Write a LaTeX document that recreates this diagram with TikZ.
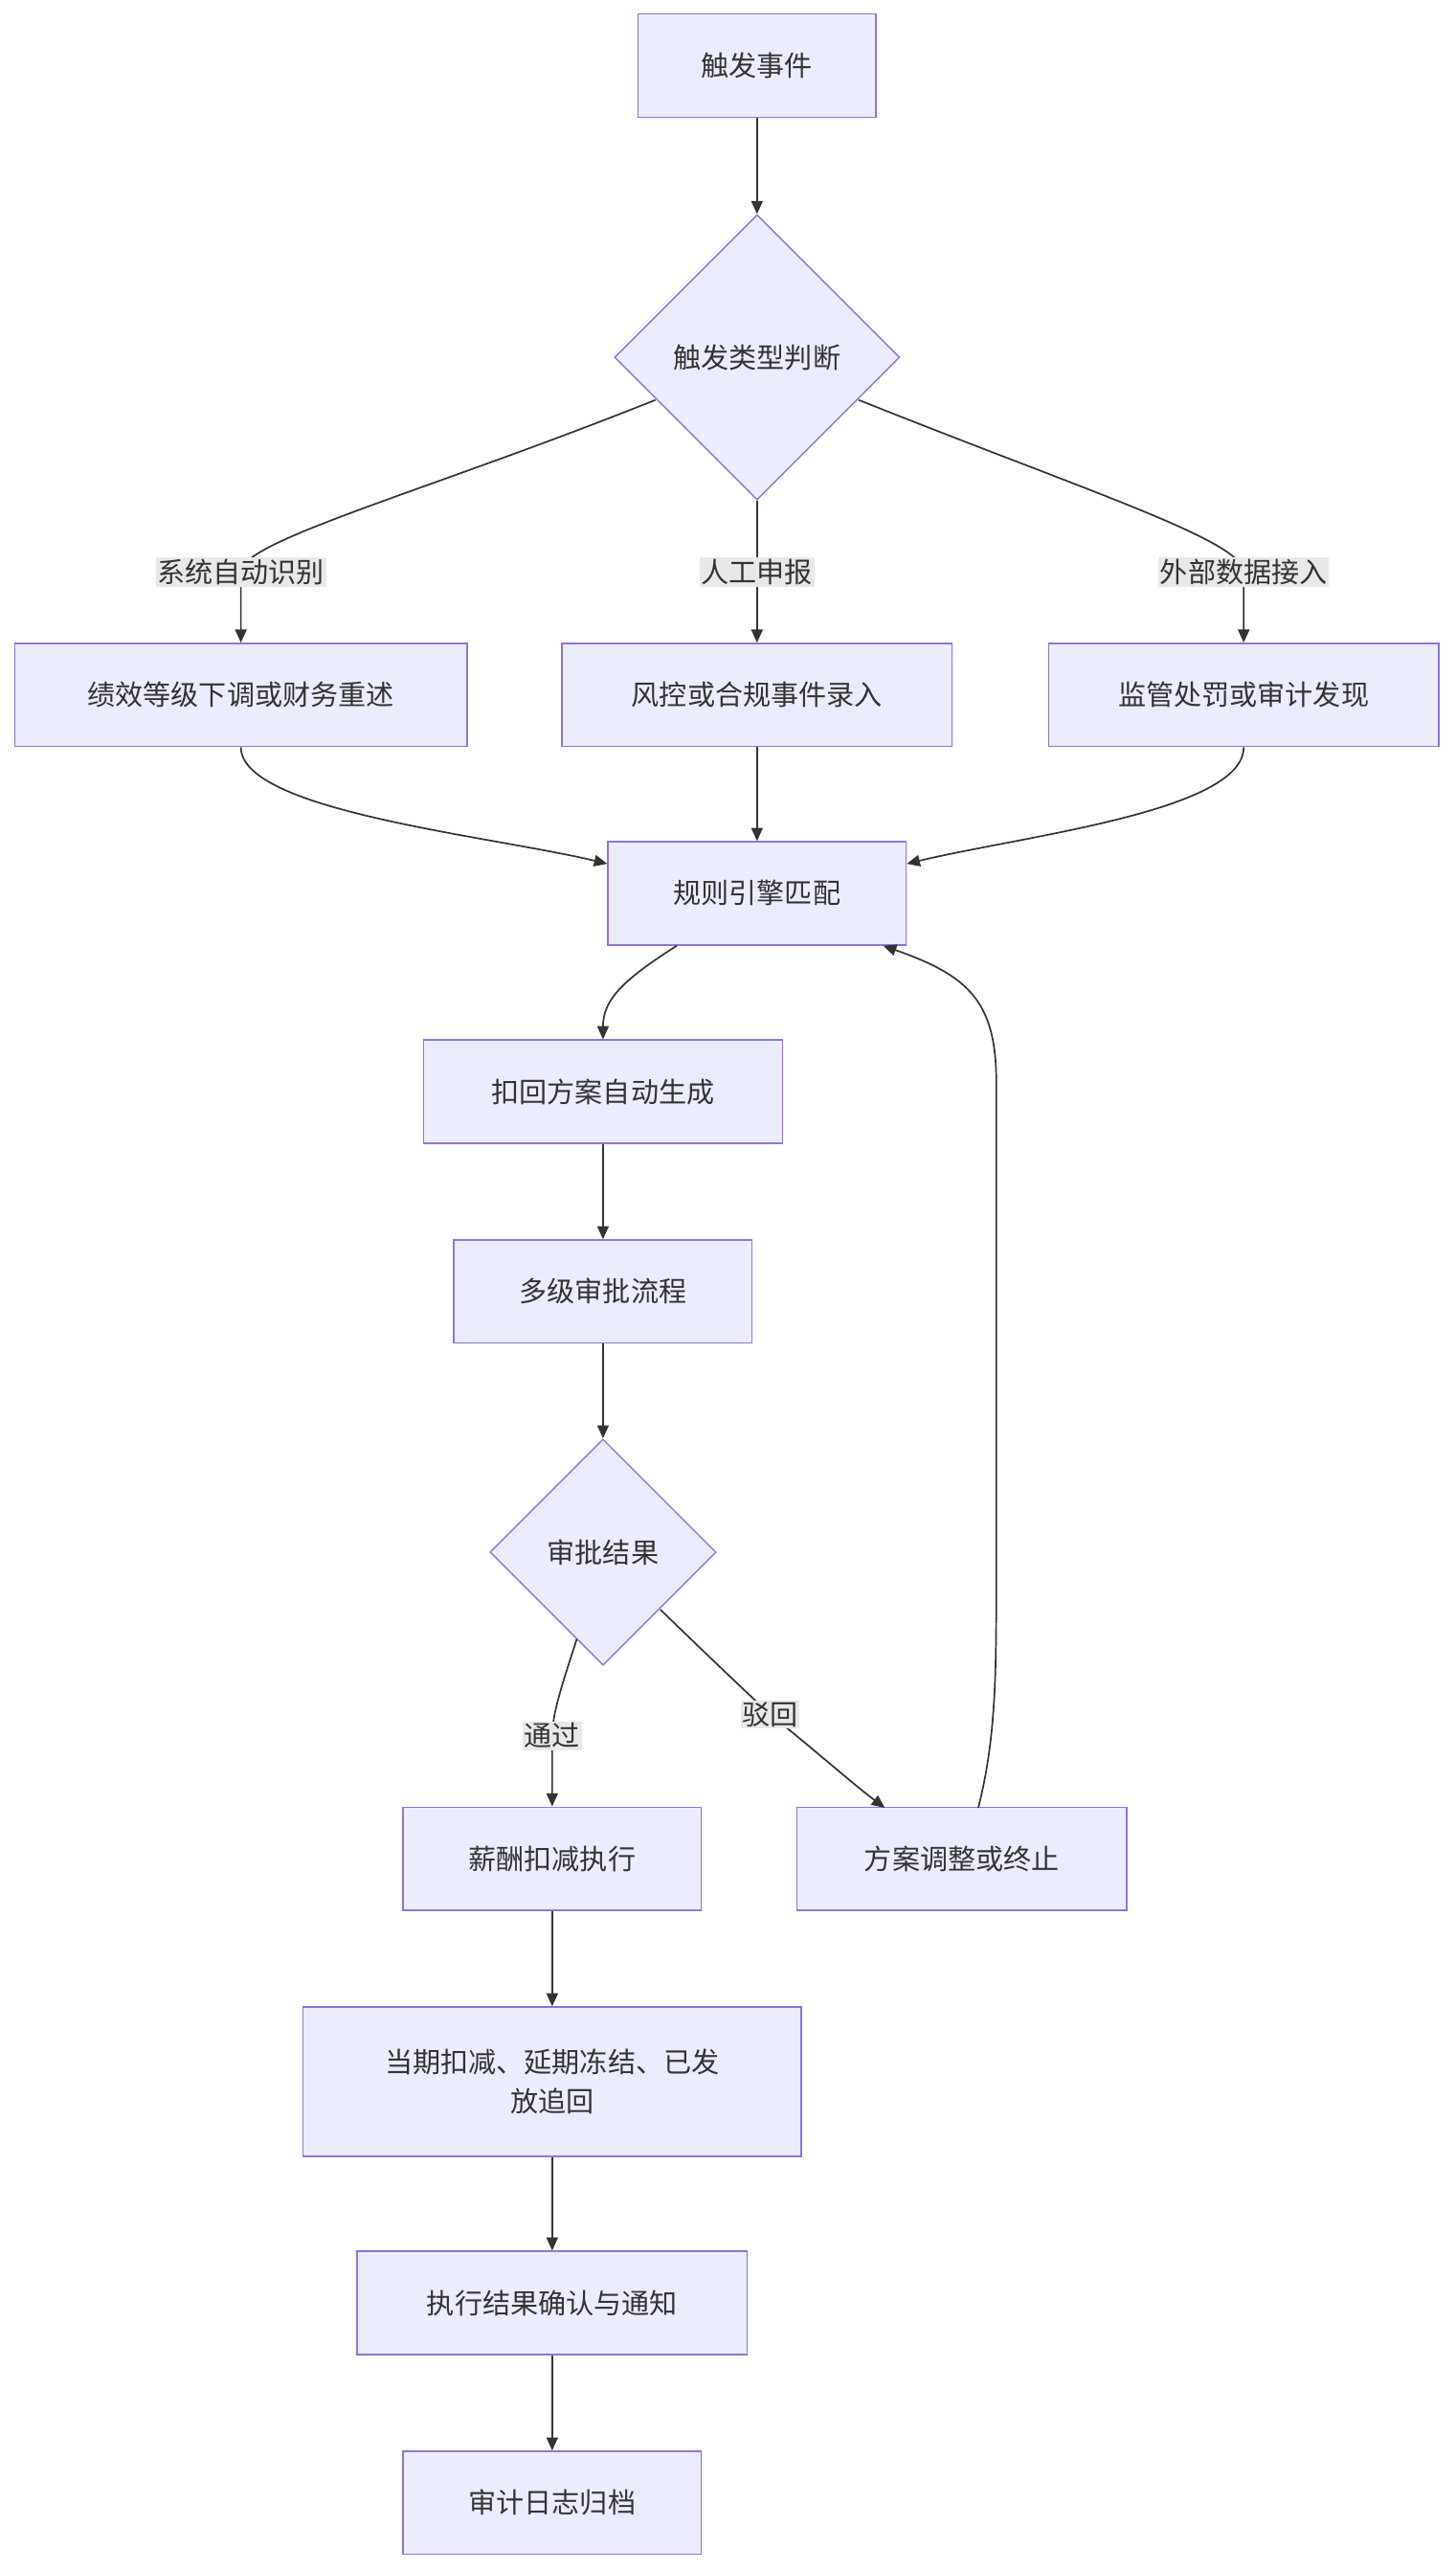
\documentclass[tikz,border=0pt]{standalone}
\usepackage{fontspec}
\setmainfont{Noto Sans CJK SC}
\usetikzlibrary{shapes.geometric,arrows.meta}
\definecolor{nfill}{HTML}{ECECFF}
\definecolor{nline}{HTML}{9370DB}
\definecolor{ink}{HTML}{333333}
\definecolor{lbg}{HTML}{E8E8E8}
\begin{document}
\begin{tikzpicture}[x=1pt,y=1pt,
  box/.style={draw=nline,fill=nfill,line width=0.8pt,minimum height=63pt,text=ink,font=\fontsize{17}{24}\selectfont,inner sep=0pt},
  dia/.style={draw=nline,fill=nfill,line width=0.8pt,diamond,aspect=1,text=ink,font=\fontsize{17}{24}\selectfont,inner sep=0pt},
  lab/.style={fill=lbg,text=ink,font=\fontsize{17}{20}\selectfont,inner sep=1pt},
  conn/.style={draw=ink,line width=1pt,-{Triangle[length=8pt,width=7pt]}}]
\useasboundingbox (0,0) rectangle (888,-1568);
\node[box,minimum width=145pt] (e1) at (462,-40) {触发事件};
\node[dia,minimum width=174pt,minimum height=174pt] (d1) at (462,-218) {触发类型判断};
\node[box,minimum width=276pt] (b1) at (147,-424) {绩效等级下调或财务重述};
\node[box,minimum width=238pt] (b2) at (462,-424) {风控或合规事件录入};
\node[box,minimum width=238pt] (b3) at (759,-424) {监管处罚或审计发现};
\node[box,minimum width=182pt] (eng) at (462,-545) {规则引擎匹配};
\node[box,minimum width=219pt] (gen) at (368,-666) {扣回方案自动生成};
\node[box,minimum width=182pt] (app) at (368,-788) {多级审批流程};
\node[dia,minimum width=138pt,minimum height=138pt] (d2) at (368,-947) {审批结果};
\node[box,minimum width=182pt] (exe) at (337,-1134) {薪酬扣减执行};
\node[box,minimum width=201pt] (adj) at (587,-1134) {方案调整或终止};
\node[box,minimum width=304pt,minimum height=91pt,align=center] (cut) at (337,-1270) {当期扣减、延期冻结、已发\\放追回};
\node[box,minimum width=238pt] (conf) at (337,-1405) {执行结果确认与通知};
\node[box,minimum width=182pt] (log) at (337,-1527) {审计日志归档};
\coordinate (l1) at (147,-349);
\coordinate (l3) at (759,-349);
\coordinate (lp) at (337,-1059);
\coordinate (lr) at (470,-1046);
\draw[conn] (e1) -- (d1);
\draw[conn] (400,-244) .. controls (260,-300) and (147,-330) .. (l1) .. controls (147,-360) and (147,-375) .. (b1.north);
\draw[conn] (d1.south) -- (b2.north);
\draw[conn] (524,-244) .. controls (664,-300) and (759,-330) .. (l3) .. controls (759,-360) and (759,-375) .. (b3.north);
\node[lab] at (l1) {系统自动识别};
\node[lab] at (462,-349) {人工申报};
\node[lab] at (l3) {外部数据接入};
\draw[conn] (b1.south) .. controls (147,-495) and (300,-510) .. (eng.west|-0,-527);
\draw[conn] (b2.south) -- (eng.north);
\draw[conn] (b3.south) .. controls (759,-495) and (624,-510) .. (eng.east|-0,-527);
\draw[conn] (413,-577) .. controls (380,-598) and (368,-610) .. (gen.north);
\draw[conn] (gen) -- (app);
\draw[conn] (app) -- (d2);
\draw[conn] (352,-1000) .. controls (344,-1025) and (337,-1045) .. (lp) -- (exe.north);
\draw[conn] (403,-982) .. controls (440,-1018) and (470,-1046) .. (lr) .. controls (500,-1070) and (520,-1088) .. (540,-1103);
\node[lab] at (lp) {通过};
\node[lab] at (lr) {驳回};
\draw[conn] (597,-1103) .. controls (608,-1060) and (608,-1020) .. (608,-960) -- (608,-660) .. controls (608,-610) and (590,-595) .. (539,-577);
\draw[conn] (exe) -- (cut);
\draw[conn] (cut) -- (conf);
\draw[conn] (conf) -- (log);
\end{tikzpicture}
\end{document}
